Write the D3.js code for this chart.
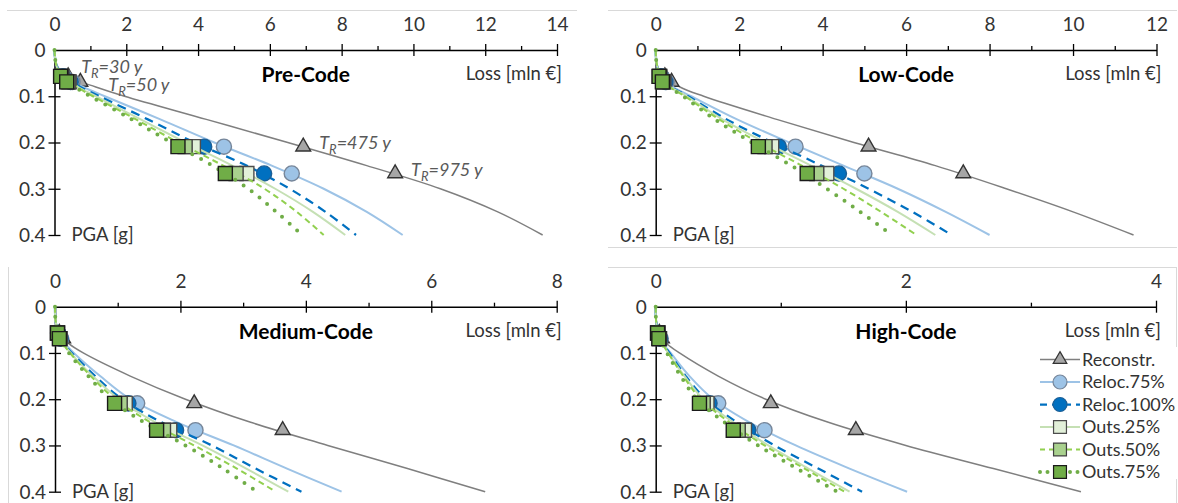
<!DOCTYPE html>
<html>
<head>
<meta charset="utf-8">
<script src="https://cdn.jsdelivr.net/npm/d3@7"></script>
<style>
  body { margin: 0; background: #fff; }
  svg { display: block; font-family: Lato, 'Open Sans', sans-serif; }
</style>
</head>
<body>
<svg id="chart" width="1178" height="503"></svg>
<script>
// PGA levels at which the loss curves are read
const pgaGrid = [0, 0.02, 0.04, 0.06, 0.08, 0.1, 0.15, 0.2, 0.25, 0.3, 0.35, 0.4]
// PGA of the return-period markers
const markerPga = [0.057, 0.069, 0.209, 0.267]
const returnPeriods = ['30', '50', '475', '975']
const seriesNames = ['Reconstr.', 'Reloc.75%', 'Reloc.100%', 'Outs.25%', 'Outs.50%', 'Outs.75%']
const panelTitles = ['Pre-Code', 'Low-Code', 'Medium-Code', 'High-Code']
const lossMax = [14, 12, 8, 4]
const pgaTicks = [0, 0.1, 0.2, 0.3, 0.4]

// loss [mln €] per series (rows) along pgaGrid
const preCodeCurves = [
  [0, 0.02, 0.12, 0.45, 1.15, 1.95, 4.23, 6.5, 8.7, 10.75, 12.35, 13.6],
  [0, 0.02, 0.1, 0.33, 0.8, 1.4, 2.95, 4.45, 6.05, 7.5, 8.7, 9.7],
  [0, 0.02, 0.09, 0.3, 0.72, 1.25, 2.6, 3.9, 5.35, 6.55, 7.55, 8.4],
  [0, 0.02, 0.08, 0.28, 0.66, 1.15, 2.4, 3.65, 4.95, 6.15, 7.2, 8.1],
  [0, 0.02, 0.08, 0.27, 0.62, 1.07, 2.27, 3.45, 4.7, 5.85, 6.75, 7.5],
  [0, 0.02, 0.07, 0.25, 0.57, 1.0, 2.15, 3.25, 4.4, 5.4, 6.18, 6.9]
]
const lowCodeCurves = [
  [0, 0.01, 0.06, 0.27, 0.58, 1.15, 2.9, 4.75, 6.7, 8.4, 10.0, 11.45],
  [0, 0.01, 0.05, 0.18, 0.42, 0.85, 1.95, 3.2, 4.5, 5.8, 6.95, 8.0],
  [0, 0.01, 0.05, 0.16, 0.38, 0.78, 1.7, 2.8, 3.97, 5.1, 6.15, 7.09],
  [0, 0.01, 0.05, 0.15, 0.36, 0.74, 1.6, 2.62, 3.72, 4.8, 5.8, 6.7],
  [0, 0.01, 0.05, 0.14, 0.34, 0.7, 1.52, 2.46, 3.5, 4.5, 5.4, 6.25],
  [0, 0.01, 0.04, 0.13, 0.32, 0.66, 1.42, 2.3, 3.25, 4.1, 4.9, 5.66]
]
const mediumCodeCurves = [
  [0, 0.003, 0.02, 0.08, 0.22, 0.45, 1.2, 2.08, 3.12, 4.35, 5.62, 6.86],
  [0, 0.003, 0.02, 0.06, 0.16, 0.3, 0.72, 1.2, 1.95, 2.85, 3.7, 4.57],
  [0, 0.003, 0.02, 0.06, 0.14, 0.27, 0.64, 1.07, 1.7, 2.5, 3.2, 3.93],
  [0, 0.003, 0.02, 0.06, 0.14, 0.25, 0.6, 1.02, 1.6, 2.35, 3.05, 3.72],
  [0, 0.003, 0.02, 0.06, 0.13, 0.24, 0.57, 0.96, 1.52, 2.22, 2.9, 3.52],
  [0, 0.003, 0.02, 0.05, 0.12, 0.22, 0.53, 0.88, 1.42, 2.08, 2.68, 3.22]
]
const highCodeCurves = [
  [0, 0.001, 0.01, 0.03, 0.09, 0.19, 0.5, 0.88, 1.38, 2.0, 2.7, 3.4],
  [0, 0.001, 0.008, 0.025, 0.06, 0.12, 0.27, 0.46, 0.75, 1.12, 1.55, 2.01],
  [0, 0.001, 0.008, 0.025, 0.06, 0.11, 0.24, 0.4, 0.65, 0.95, 1.3, 1.65],
  [0, 0.001, 0.007, 0.022, 0.055, 0.1, 0.23, 0.38, 0.62, 0.9, 1.22, 1.55],
  [0, 0.001, 0.007, 0.022, 0.055, 0.1, 0.22, 0.36, 0.59, 0.87, 1.19, 1.51],
  [0, 0.001, 0.006, 0.02, 0.05, 0.09, 0.2, 0.33, 0.55, 0.82, 1.13, 1.45]
]

// loss at the return-period markers (TR = 30, 50, 475, 975 y)
const preCodeMarkers = [
  [0.38, 0.72, 6.93, 9.49],
  [0.26, 0.5, 4.72, 6.61],
  [0.23, 0.45, 4.17, 5.84],
  [0.21, 0.41, 3.87, 5.36],
  [0.19, 0.38, 3.64, 5.06],
  [0.17, 0.34, 3.44, 4.76]
]
const lowCodeMarkers = [
  [0.22, 0.38, 5.1, 7.37],
  [0.14, 0.26, 3.35, 5.0],
  [0.12, 0.23, 2.95, 4.39],
  [0.1, 0.2, 2.78, 4.1],
  [0.09, 0.18, 2.62, 3.86],
  [0.08, 0.16, 2.46, 3.63]
]
const mediumCodeMarkers = [
  [0.07, 0.13, 2.22, 3.63],
  [0.05, 0.1, 1.31, 2.24],
  [0.05, 0.09, 1.17, 1.93],
  [0.04, 0.08, 1.12, 1.83],
  [0.04, 0.08, 1.04, 1.73],
  [0.04, 0.07, 0.95, 1.62]
]
const highCodeMarkers = [
  [0.03, 0.05, 0.92, 1.6],
  [0.02, 0.04, 0.5, 0.87],
  [0.02, 0.035, 0.43, 0.74],
  [0.02, 0.03, 0.41, 0.71],
  [0.015, 0.03, 0.38, 0.66],
  [0.015, 0.025, 0.35, 0.62]
]

const styles = [
  { line: '#7f7f7f', w: 1.5, dash: null, sym: d3.symbolTriangle, size: 95, fill: '#a6a6a6', stroke: '#333' },
  { line: '#9dc3e6', w: 2, dash: null, sym: d3.symbolCircle, size: 180, fill: '#9dc3e6', stroke: '#76869a' },
  { line: '#0070c0', w: 2.25, dash: '9 6', sym: d3.symbolCircle, size: 180, fill: '#0070c0', stroke: '#1d5f95' },
  { line: '#c5e0b4', w: 2, dash: null, sym: d3.symbolSquare, size: 196, fill: '#e2f0d9', stroke: '#4d4d4d' },
  { line: '#92d050', w: 2, dash: '6 4', sym: d3.symbolSquare, size: 196, fill: '#a9d18e', stroke: '#404040' },
  { line: '#70ad47', w: 4, dash: '0 10', cap: 'round', sym: d3.symbolSquare, size: 196, fill: '#70ad47', stroke: '#1a1a1a' }
]

const panels = [
  { title: panelTitles[0], max: lossMax[0], curves: preCodeCurves, markers: preCodeMarkers, left: 54.5, right: 557, top: 50 },
  { title: panelTitles[1], max: lossMax[1], curves: lowCodeCurves, markers: lowCodeMarkers, left: 655.7, right: 1156.5, top: 50 },
  { title: panelTitles[2], max: lossMax[2], curves: mediumCodeCurves, markers: mediumCodeMarkers, left: 55, right: 556.7, top: 306.7 },
  { title: panelTitles[3], max: lossMax[3], curves: highCodeCurves, markers: highCodeMarkers, left: 655.7, right: 1156, top: 306.7 }
]
const plotH = 185

const svg = d3.select('#chart')

// chart-area borders (only the parts visible in the figure)
const borders = [
  [7, 10.5, 577, 10.5], [608, 10.5, 1177, 10.5], [608, 247.5, 1177, 247.5],
  [8.5, 267, 8.5, 503], [608, 267.5, 1177, 267.5], [1176.5, 267, 1176.5, 503]
]
svg.append('g').selectAll('line').data(borders).enter()
  .append('line')
  .attr('x1', d => d[0]).attr('y1', d => d[1])
  .attr('x2', d => d[2]).attr('y2', d => d[3])
  .style('stroke', '#d9d9d9')
  .style('stroke-width', 1)

panels.forEach((p, pi) => {
  const x = d3.scaleLinear().domain([0, p.max]).range([p.left, p.right])
  const y = d3.scaleLinear().domain([0, 0.4]).range([p.top, p.top + plotH])
  const g = svg.append('g').classed('panel', true)

  // minor ticks on the loss axis
  const minor = d3.range(1, p.max, 2)
  g.append('g')
    .attr('transform', `translate(0, ${p.top})`)
    .call(d3.axisTop(x).tickValues(minor).tickSize(4).tickFormat(''))
    .call(a => a.select('.domain').remove())
    .call(a => a.selectAll('.tick line').style('stroke', '#000').style('stroke-width', 1.3))

  // loss axis (top)
  const xAxisg = g.append('g')
    .attr('transform', `translate(0, ${p.top})`)
    .call(d3.axisTop(x).tickValues(d3.range(0, p.max + 0.1, 2)).tickSizeOuter(0).tickFormat(d3.format('d')))
  xAxisg.select('.domain').style('stroke', '#000').style('stroke-width', 1.5)
  xAxisg.selectAll('.tick line').attr('y1', -6).attr('y2', 6).style('stroke', '#000').style('stroke-width', 1.3)
  xAxisg.selectAll('.tick').filter(d => d === 0).select('line').remove()
  xAxisg.selectAll('.tick text')
    .attr('y', -19).attr('dy', 0)
    .style('font-size', '19px').style('fill', '#333').style('font-family', 'Lato, sans-serif')

  // PGA axis (left)
  const yAxisg = g.append('g')
    .attr('transform', `translate(${p.left}, 0)`)
    .call(d3.axisLeft(y).tickValues(pgaTicks).tickSizeOuter(0).tickFormat(d => d === 0 ? '0' : d3.format('.1f')(d)))
  yAxisg.select('.domain').style('stroke', '#000').style('stroke-width', 1.5)
  yAxisg.selectAll('.tick line').attr('x1', -6).attr('x2', 6).style('stroke', '#000').style('stroke-width', 1.3)
  yAxisg.selectAll('.tick').filter(d => d === 0).select('line').remove()
  yAxisg.selectAll('.tick text')
    .attr('x', -9).attr('dy', '0.34em')
    .style('font-size', '19px').style('fill', '#333').style('font-family', 'Lato, sans-serif')

  // titles
  g.append('text')
    .text(p.title)
    .attr('x', (p.left + p.right) / 2)
    .attr('y', p.top + 32)
    .attr('text-anchor', 'middle')
    .style('font-weight', 'bold')
    .style('font-size', '21px')
    .style('fill', '#000')

  g.append('text')
    .text('Loss [mln €]')
    .attr('x', p.right + 5)
    .attr('y', p.top + 30)
    .attr('text-anchor', 'end')
    .style('font-size', '18.5px')
    .style('fill', '#333')

  g.append('text')
    .text('PGA [g]')
    .attr('x', p.left + 17)
    .attr('y', p.top + plotH + 6)
    .style('font-size', '18.5px')
    .style('fill', '#333')

  // series: line then markers, in Excel series order
  const line = d3.line()
    .x(d => x(d[0]))
    .y(d => y(d[1]))
    .curve(d3.curveCatmullRom.alpha(0.5))

  p.curves.forEach((loss, si) => {
    const st = styles[si]
    const pts = pgaGrid.map((v, i) => [loss[i], v])
    g.append('path')
      .datum(pts)
      .attr('d', line)
      .style('fill', 'none')
      .style('stroke', st.line)
      .style('stroke-width', st.w)
      .style('stroke-dasharray', st.dash)
      .style('stroke-linecap', st.cap || 'butt')

    g.selectAll(null)
      .data(p.markers[si].map((v, i) => [v, markerPga[i]]))
      .enter()
      .append('path')
      .attr('d', d3.symbol().type(st.sym).size(st.size))
      .attr('transform', d => `translate(${x(d[0])}, ${y(d[1])})`)
      .style('fill', st.fill)
      .style('stroke', st.stroke)
      .style('stroke-width', 1.4)
  })

  // return-period annotations (Pre-Code only), attached to the Reconstr. markers
  if (pi === 0) {
    const offsets = [[13, -3.5], [28, 9.5], [16, 2.5], [16, 2.5]]
    p.markers[0].forEach((v, i) => {
      const t = g.append('text')
        .attr('x', x(v) + offsets[i][0])
        .attr('y', y(markerPga[i]) + offsets[i][1])
        .style('font-style', 'italic')
        .style('font-size', '18px')
        .style('fill', '#595959')
      t.append('tspan').text('T')
      t.append('tspan').text('R').attr('dy', 5).style('font-size', '13px')
      t.append('tspan').text(`=${returnPeriods[i]} y`).attr('dy', -5)
    })
  }
})

// legend (inside High-Code panel)
const legend = svg.append('g').classed('legend', true)
legend.append('rect')
  .attr('x', 1038).attr('y', 347)
  .attr('width', 140).attr('height', 132)
  .style('fill', '#fff')

const item = legend.selectAll('g.item').data(seriesNames).enter()
  .append('g')
  .classed('item', true)
  .attr('transform', (d, i) => `translate(1040, ${359.5 + i * 22.5})`)

item.append('line')
  .attr('x1', 0).attr('x2', 40)
  .style('stroke', (d, i) => styles[i].line)
  .style('stroke-width', (d, i) => styles[i].w)
  .style('stroke-dasharray', (d, i) => styles[i].dash ? (i === 2 ? '7 5' : i === 4 ? '5 4' : '0 7.5') : null)
  .style('stroke-linecap', (d, i) => styles[i].cap || 'butt')

item.append('path')
  .attr('d', (d, i) => d3.symbol().type(styles[i].sym).size(styles[i].size * 0.85)())
  .attr('transform', 'translate(20, 0)')
  .style('fill', (d, i) => styles[i].fill)
  .style('stroke', (d, i) => styles[i].stroke)
  .style('stroke-width', 1.2)

item.append('text')
  .text(d => d)
  .attr('x', 42)
  .attr('dy', '0.35em')
  .style('font-size', '18px')
  .style('fill', '#333')
</script>
</body>
</html>
